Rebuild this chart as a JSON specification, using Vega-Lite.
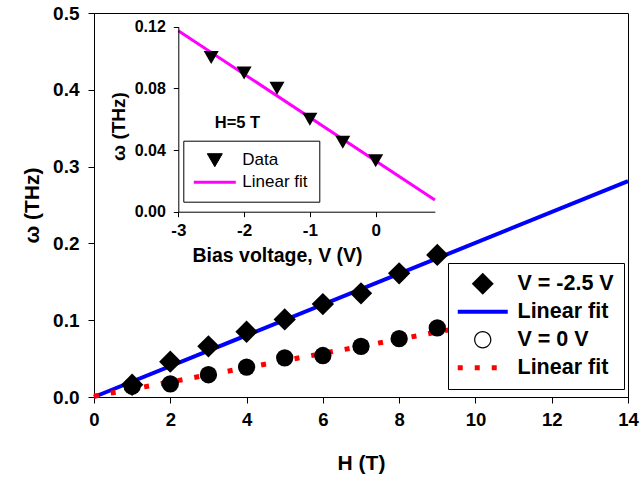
{
  "$schema": "https://vega.github.io/schema/vega-lite/v6.json",
  "width": 534,
  "height": 384,
  "autosize": "none",
  "padding": {"left": 94, "top": 13, "right": 14, "bottom": 88},
  "background": "white",
  "config": {
    "font": "Liberation Sans",
    "view": {"stroke": "black", "strokeWidth": 1},
    "axis": {
      "grid": false,
      "domainColor": "black",
      "tickColor": "black",
      "labelColor": "black",
      "titleColor": "black",
      "labelFont": "Liberation Sans",
      "titleFont": "Liberation Sans",
      "labelFontWeight": "bold",
      "titleFontWeight": "bold"
    }
  },
  "datasets": {
    "mainpts": [
      {"H": 1, "w": 0.016, "series": "V = -2.5 V"},
      {"H": 2, "w": 0.046, "series": "V = -2.5 V"},
      {"H": 3, "w": 0.066, "series": "V = -2.5 V"},
      {"H": 4, "w": 0.085, "series": "V = -2.5 V"},
      {"H": 5, "w": 0.101, "series": "V = -2.5 V"},
      {"H": 6, "w": 0.121, "series": "V = -2.5 V"},
      {"H": 7, "w": 0.135, "series": "V = -2.5 V"},
      {"H": 8, "w": 0.161, "series": "V = -2.5 V"},
      {"H": 9, "w": 0.185, "series": "V = -2.5 V"},
      {"H": 1, "w": 0.014, "series": "V = 0 V"},
      {"H": 2, "w": 0.017, "series": "V = 0 V"},
      {"H": 3, "w": 0.029, "series": "V = 0 V"},
      {"H": 4, "w": 0.039, "series": "V = 0 V"},
      {"H": 5, "w": 0.051, "series": "V = 0 V"},
      {"H": 6, "w": 0.054, "series": "V = 0 V"},
      {"H": 7, "w": 0.066, "series": "V = 0 V"},
      {"H": 8, "w": 0.076, "series": "V = 0 V"},
      {"H": 9, "w": 0.09, "series": "V = 0 V"}
    ],
    "mainfit": [
      {"H": 0, "w": 0.0, "series": "Linear fit"},
      {"H": 14, "w": 0.281, "series": "Linear fit"},
      {"H": 0, "w": 0.001, "series": "Linear fit "},
      {"H": 14, "w": 0.131, "series": "Linear fit "}
    ],
    "insetpts": [
      {"V": -2.5, "w": 0.1, "series": "Data"},
      {"V": -2.0, "w": 0.09, "series": "Data"},
      {"V": -1.5, "w": 0.08, "series": "Data"},
      {"V": -1.0, "w": 0.06, "series": "Data"},
      {"V": -0.5, "w": 0.045, "series": "Data"},
      {"V": 0.0, "w": 0.033, "series": "Data"}
    ],
    "insetfit": [
      {"V": -3.0, "w": 0.1174, "series": "Linear fit"},
      {"V": 0.9, "w": 0.0076, "series": "Linear fit"}
    ],
    "note": [
      {"label": "H=5 T"}
    ]
  },
  "layer": [
    {
      "encoding": {
        "x": {
          "field": "H", "type": "quantitative",
          "scale": {"domain": [0, 14], "nice": false, "zero": false},
          "axis": {
            "values": [0, 2, 4, 6, 8, 10, 12, 14],
            "title": "H (T)",
            "labelFontSize": 18.5, "titleFontSize": 21,
            "tickSize": 6, "labelPadding": 7, "titlePadding": 24,
            "labelFlush": false
          }
        },
        "y": {
          "field": "w", "type": "quantitative",
          "scale": {"domain": [0, 0.5], "nice": false, "zero": false},
          "axis": {
            "values": [0, 0.1, 0.2, 0.3, 0.4, 0.5],
            "format": ".1f",
            "title": "ω (THz)",
            "labelFontSize": 19, "titleFontSize": 21,
            "tickSize": 6, "labelPadding": 9, "titlePadding": 10,
            "labelFlush": false
          }
        },
        "color": {
          "field": "series", "type": "nominal",
          "scale": {
            "domain": ["V = -2.5 V", "Linear fit", "V = 0 V", "Linear fit "],
            "range": ["black", "#0000ff", "black", "#ff0000"]
          },
          "legend": {
            "orient": "none", "legendX": 354, "legendY": 250,
            "title": null,
            "fillColor": "white", "strokeColor": "black",
            "padding": 10,
            "symbolSize": 484, "symbolOffset": 14, "labelOffset": 24,
            "rowPadding": 5,
            "labelFontSize": 21.5, "labelFontWeight": "bold", "labelColor": "black",
            "labelFont": "Liberation Sans",
            "encode": {
              "symbols": {
                "update": {
                  "shape": {"signal": "datum.value == 'V = -2.5 V' ? 'diamond' : datum.value == 'V = 0 V' ? 'M -1 0 A 1 1 0 1 1 1 0 A 1 1 0 1 1 -1 0 Z M -0.86 0 A 0.86 0.86 0 1 0 0.86 0 A 0.86 0.86 0 1 0 -0.86 0 Z' : 'stroke'"},
                  "fill": {"signal": "datum.value == 'V = -2.5 V' || datum.value == 'V = 0 V' ? 'black' : 'transparent'"},
                  "stroke": {"signal": "datum.value == 'Linear fit' ? '#0000ff' : datum.value == 'Linear fit ' ? '#ff0000' : 'transparent'"},
                  "strokeWidth": {"signal": "datum.value == 'Linear fit' ? 4 : datum.value == 'Linear fit ' ? 5 : 0"},
                  "strokeDash": {"signal": "datum.value == 'Linear fit ' ? [5, 12] : [1, 0]"},
                  "size": {"signal": "datum.value == 'V = -2.5 V' ? 484 : datum.value == 'V = 0 V' ? 300 : 2500"},
                  "opacity": {"value": 1}
                }
              }
            }
          }
        }
      },
      "layer": [
        {
          "data": {"name": "mainfit"},
          "transform": [{"filter": "datum.series == 'Linear fit'"}],
          "mark": {"type": "line", "strokeWidth": 4}
        },
        {
          "data": {"name": "mainfit"},
          "transform": [{"filter": "datum.series == 'Linear fit '"}],
          "mark": {"type": "line", "strokeWidth": 5, "strokeDash": [5, 12]}
        },
        {
          "data": {"name": "mainpts"},
          "transform": [{"filter": "datum.series == 'V = -2.5 V'"}],
          "mark": {"type": "point", "shape": "diamond", "filled": true, "size": 500, "opacity": 1}
        },
        {
          "data": {"name": "mainpts"},
          "transform": [{"filter": "datum.series == 'V = 0 V'"}],
          "mark": {"type": "point", "shape": "circle", "filled": true, "size": 300, "opacity": 1}
        }
      ]
    },
    {
      "layer": [
        {
          "mark": {"type": "rect", "fill": "white", "stroke": "black", "strokeWidth": 1},
          "encoding": {
            "x": {
              "datum": -3, "type": "quantitative",
              "scale": {"domain": [-3, 0.9], "range": [84.3, 340.9], "nice": false, "zero": false},
              "axis": {
                "orient": "bottom", "offset": -185.3, "zindex": 1,
                "values": [-3, -2, -1, 0],
                "labelExpr": "'' + datum.value",
                "title": "Bias voltage, V (V)",
                "titleX": 183,
                "labelFontSize": 17, "titleFontSize": 19.5,
                "tickSize": 5, "labelPadding": 6, "titlePadding": 8,
                "labelFlush": false
              }
            },
            "x2": {"datum": 0.9},
            "y": {
              "datum": 0, "type": "quantitative",
              "scale": {"domain": [0, 0.12], "range": [198.7, 13.7], "nice": false, "zero": false},
              "axis": {
                "orient": "left", "offset": -84.3, "zindex": 1,
                "values": [0, 0.04, 0.08, 0.12],
                "format": ".2f",
                "title": "ω (THz)",
                "titleY": 113,
                "labelFontSize": 16, "titleFontSize": 19,
                "tickSize": 5, "labelPadding": 8, "titlePadding": 6,
                "labelFlush": false
              }
            },
            "y2": {"datum": 0.12}
          }
        },
        {
          "data": {"name": "insetfit"},
          "mark": {"type": "line", "strokeWidth": 3},
          "encoding": {
            "x": {"field": "V", "type": "quantitative"},
            "y": {"field": "w", "type": "quantitative"},
            "color": {
              "field": "series", "type": "nominal",
              "scale": {"domain": ["Data", "Linear fit"], "range": ["black", "#ff00ff"]},
              "legend": {
                "orient": "none", "legendX": 89.3, "legendY": 127.7,
                "title": null,
                "fillColor": "white", "strokeColor": "black",
                "padding": 11,
                "symbolSize": 225, "symbolOffset": 12, "labelOffset": 19,
                "rowPadding": 4,
                "labelFontSize": 17, "labelFontWeight": "normal", "labelColor": "black",
                "labelFont": "Liberation Sans",
                "encode": {
                  "symbols": {
                    "update": {
                      "shape": {"signal": "datum.value == 'Data' ? 'triangle-down' : 'stroke'"},
                      "fill": {"signal": "datum.value == 'Data' ? 'black' : 'transparent'"},
                      "stroke": {"signal": "datum.value == 'Data' ? 'black' : '#ff00ff'"},
                      "strokeWidth": {"signal": "datum.value == 'Data' ? 1 : 3"},
                      "size": {"signal": "datum.value == 'Data' ? 225 : 1764"},
                      "opacity": {"value": 1}
                    }
                  }
                }
              }
            }
          }
        },
        {
          "data": {"name": "insetpts"},
          "mark": {"type": "point", "shape": "triangle-down", "filled": true, "size": 225, "opacity": 1},
          "encoding": {
            "x": {"field": "V", "type": "quantitative"},
            "y": {"field": "w", "type": "quantitative"},
            "color": {"field": "series", "type": "nominal"}
          }
        },
        {
          "data": {"name": "note"},
          "mark": {"type": "text", "fontSize": 16.5, "fontWeight": "bold", "fill": "black", "opacity": 1, "align": "center", "baseline": "middle"},
          "encoding": {
            "x": {"datum": -2.1, "type": "quantitative"},
            "y": {"datum": 0.0573, "type": "quantitative"},
            "text": {"field": "label", "type": "nominal"}
          }
        }
      ]
    }
  ],
  "resolve": {
    "scale": {"x": "independent", "y": "independent", "color": "independent"},
    "axis": {"x": "independent", "y": "independent"},
    "legend": {"color": "independent"}
  }
}
